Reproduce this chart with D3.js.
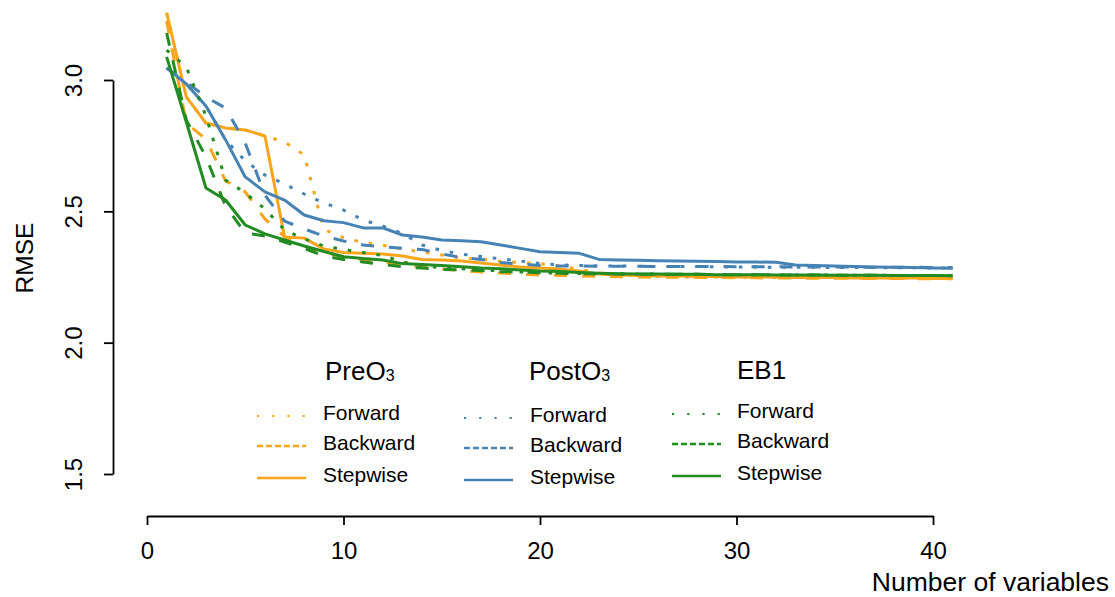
<!DOCTYPE html>
<html>
<head>
<meta charset="utf-8">
<script src="https://cdn.jsdelivr.net/npm/d3@7"></script>
<style>
  html, body { margin: 0; padding: 0; background: #fff; }
  svg { display: block; font-family: "Liberation Sans", Arial, Helvetica, sans-serif; }
</style>
</head>
<body>
<svg id="chart" width="1115" height="597"></svg>
<script>
// Number of variables retained in the model (1..41)
const nVars = d3.range(1, 42);

// RMSE by selection method, PreO3 data set
const preForward = [3.256, 2.936, 2.836, 2.817, 2.810, 2.787, 2.764, 2.715, 2.431, 2.400,
  2.381, 2.371, 2.357, 2.345, 2.334, 2.322, 2.319, 2.309, 2.305, 2.301,
  2.292, 2.280, 2.265, 2.258, 2.254, 2.252, 2.250, 2.250, 2.250, 2.250,
  2.248, 2.248, 2.248, 2.248, 2.248, 2.246, 2.246, 2.246, 2.246, 2.246, 2.246];
const preBackward = [3.225, 2.836, 2.775, 2.616, 2.574, 2.471, 2.404, 2.368, 2.343, 2.328,
  2.315, 2.307, 2.298, 2.288, 2.281, 2.274, 2.269, 2.265, 2.261, 2.257,
  2.256, 2.254, 2.253, 2.251, 2.250, 2.249, 2.249, 2.248, 2.248, 2.247,
  2.247, 2.246, 2.246, 2.245, 2.245, 2.245, 2.244, 2.244, 2.244, 2.243, 2.243];
const preStepwise = [3.256, 2.936, 2.836, 2.817, 2.810, 2.787, 2.402, 2.398, 2.357, 2.343,
  2.340, 2.338, 2.330, 2.317, 2.315, 2.311, 2.303, 2.296, 2.288, 2.284,
  2.280, 2.273, 2.261, 2.258, 2.256, 2.254, 2.254, 2.252, 2.252, 2.250,
  2.250, 2.250, 2.248, 2.248, 2.248, 2.246, 2.246, 2.246, 2.246, 2.244, 2.244];

// RMSE by selection method, PostO3 data set
const postForward = [3.046, 2.985, 2.901, 2.772, 2.692, 2.638, 2.604, 2.566, 2.532, 2.505,
  2.467, 2.444, 2.416, 2.372, 2.351, 2.337, 2.328, 2.319, 2.311, 2.301,
  2.296, 2.294, 2.292, 2.292, 2.291, 2.290, 2.290, 2.290, 2.289, 2.288,
  2.288, 2.287, 2.287, 2.287, 2.286, 2.286, 2.286, 2.285, 2.285, 2.284, 2.284];
const postBackward = [3.046, 2.992, 2.935, 2.893, 2.760, 2.562, 2.463, 2.433, 2.406, 2.387,
  2.372, 2.365, 2.359, 2.355, 2.338, 2.324, 2.317, 2.305, 2.299, 2.294,
  2.292, 2.292, 2.291, 2.291, 2.291, 2.290, 2.290, 2.290, 2.290, 2.289,
  2.289, 2.289, 2.288, 2.288, 2.288, 2.288, 2.287, 2.287, 2.287, 2.286, 2.286];
const postStepwise = [3.046, 2.985, 2.901, 2.772, 2.631, 2.574, 2.543, 2.486, 2.464, 2.457,
  2.437, 2.437, 2.410, 2.402, 2.391, 2.388, 2.384, 2.372, 2.359, 2.346,
  2.343, 2.340, 2.317, 2.315, 2.314, 2.312, 2.311, 2.310, 2.309, 2.307,
  2.307, 2.306, 2.296, 2.294, 2.292, 2.290, 2.288, 2.287, 2.286, 2.284, 2.283];

// RMSE by selection method, EB1 data set
const ebForward = [3.114, 3.049, 2.863, 2.619, 2.570, 2.509, 2.429, 2.395, 2.368, 2.355,
  2.343, 2.332, 2.307, 2.294, 2.284, 2.281, 2.277, 2.273, 2.269, 2.266,
  2.264, 2.263, 2.262, 2.262, 2.261, 2.261, 2.260, 2.260, 2.259, 2.259,
  2.259, 2.258, 2.258, 2.258, 2.257, 2.257, 2.257, 2.256, 2.256, 2.256, 2.255];
const ebBackward = [3.179, 2.848, 2.707, 2.520, 2.418, 2.406, 2.383, 2.359, 2.330, 2.317,
  2.307, 2.298, 2.289, 2.284, 2.279, 2.277, 2.275, 2.270, 2.269, 2.266,
  2.264, 2.262, 2.262, 2.261, 2.261, 2.260, 2.260, 2.260, 2.259, 2.259,
  2.259, 2.258, 2.258, 2.258, 2.257, 2.257, 2.257, 2.256, 2.256, 2.256, 2.255];
const ebStepwise = [3.088, 2.840, 2.589, 2.543, 2.448, 2.414, 2.391, 2.368, 2.347, 2.327,
  2.320, 2.315, 2.301, 2.298, 2.294, 2.289, 2.284, 2.281, 2.277, 2.273,
  2.271, 2.267, 2.264, 2.262, 2.261, 2.261, 2.260, 2.260, 2.259, 2.259,
  2.259, 2.258, 2.258, 2.258, 2.257, 2.257, 2.257, 2.256, 2.256, 2.256, 2.255];

// Tick labels
const xTicks = [0, 10, 20, 30, 40];
const yTicks = [1.5, 2.0, 2.5, 3.0];

// Groups and methods
const groups = ["PreO3", "PostO3", "EB1"];
const methods = ["Forward", "Backward", "Stepwise"];
const groupColors = ["#F8A51C", "#4682B4", "#228B22"];

const seriesValues = [
  [preForward, preBackward, preStepwise],
  [postForward, postBackward, postStepwise],
  [ebForward, ebBackward, ebStepwise]
];

// Line patterns in the plot area and in the key
const plotDash = { Forward: "3.6,10.9", Backward: "13,15", Stepwise: null };
const keyDash = { Forward: "2.2,13", Backward: "6,3", Stepwise: null };

const svg = d3.select("#chart");

const x = d3.scaleLinear().domain([0, 40]).range([147, 933]);
const y = d3.scaleLinear().domain([1.5, 3.0]).range([474, 80]);

// Axes
const xAxis = svg.append("g")
  .attr("transform", "translate(0,516)")
  .call(d3.axisBottom(x).tickValues(xTicks).tickSize(9).tickSizeOuter(0).tickFormat(d3.format("d")));
const yAxis = svg.append("g")
  .attr("transform", "translate(113,0)")
  .call(d3.axisLeft(y).tickValues(yTicks).tickSize(9).tickSizeOuter(0).tickFormat(d3.format(".1f")));

[xAxis, yAxis].forEach(g => {
  g.select(".domain").attr("stroke", "#000").attr("stroke-width", 1.8);
  g.selectAll(".tick line").attr("stroke", "#000").attr("stroke-width", 1.8);
});

xAxis.selectAll(".tick text")
  .attr("y", 0).attr("dy", null)
  .attr("transform", "translate(0,43)")
  .attr("font-size", 24)
  .attr("fill", "#000")
  .attr("font-family", "Liberation Sans, Arial, sans-serif");

yAxis.selectAll(".tick text")
  .attr("x", 0).attr("dy", null)
  .attr("text-anchor", "middle")
  .attr("transform", "translate(-31,0) rotate(-90)")
  .attr("font-size", 24)
  .attr("fill", "#000")
  .attr("font-family", "Liberation Sans, Arial, sans-serif");

// Axis titles
svg.append("text")
  .attr("transform", "translate(33,258) rotate(-90)")
  .attr("text-anchor", "middle")
  .attr("font-size", 24.5)
  .text("RMSE");

svg.append("text")
  .attr("x", 1109).attr("y", 591)
  .attr("text-anchor", "end")
  .attr("font-size", 26.5)
  .text("Number of variables");

// Curves
const line = d3.line()
  .x((d, i) => x(nVars[i]))
  .y(d => y(d));

const plot = svg.append("g");
groups.forEach((g, gi) => {
  methods.forEach((m, mi) => {
    plot.append("path")
      .datum(seriesValues[gi][mi])
      .attr("d", line)
      .attr("fill", "none")
      .attr("stroke", groupColors[gi])
      .attr("stroke-width", 3)
      .attr("stroke-linejoin", "round")
      .attr("stroke-dasharray", plotDash[m]);
  });
});

// Key: one column per data set
const keyCols = [
  { titleX: 325, titleY: 380, lineX: 257, textX: 323, rows: [420, 450, 482], lineOff: -4 },
  { titleX: 529, titleY: 380, lineX: 464, textX: 530, rows: [422, 452, 484], lineOff: -4 },
  { titleX: 737, titleY: 379, lineX: 672, textX: 737, rows: [418, 448, 480], lineOff: -4 }
];

groups.forEach((g, gi) => {
  const c = keyCols[gi];
  const title = svg.append("text")
    .attr("x", c.titleX).attr("y", c.titleY)
    .attr("font-size", 26);
  if (g.endsWith("3")) {
    title.append("tspan").text(g.slice(0, -1));
    title.append("tspan").attr("font-size", 16).attr("dy", 1).text("3");
  } else {
    title.text(g);
  }
  methods.forEach((m, mi) => {
    const yy = c.rows[mi];
    svg.append("line")
      .attr("x1", c.lineX).attr("x2", c.lineX + 49)
      .attr("y1", yy + c.lineOff).attr("y2", yy + c.lineOff)
      .attr("stroke", groupColors[gi])
      .attr("stroke-width", m === "Forward" ? 2.2 : 2.4)
      .attr("stroke-dasharray", keyDash[m]);
    svg.append("text")
      .attr("x", c.textX).attr("y", yy)
      .attr("font-size", 21)
      .text(m);
  });
});
</script>
</body>
</html>
